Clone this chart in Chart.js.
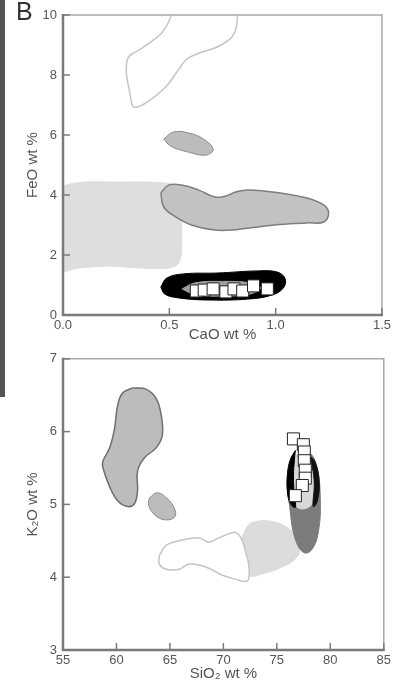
<!DOCTYPE html>
<html><head><meta charset="utf-8">
<script src="https://cdn.jsdelivr.net/npm/chart.js@4"></script>
<style>
html,body{margin:0;padding:0;background:#fff;width:394px;height:681px;overflow:hidden;}
#bar{position:absolute;left:0;top:0;width:5px;height:397px;background:#555;}
#lbl{position:absolute;left:16px;top:-1px;font:25px 'Liberation Sans',Arial,sans-serif;color:#333;line-height:1;}
#c1{position:absolute;left:0;top:0;}
#c2{position:absolute;left:0;top:345px;}
</style></head><body>
<div id="bar"></div>
<canvas id="c1" width="394" height="345"></canvas>
<canvas id="c2" width="394" height="336"></canvas>
<div id="lbl">B</div>
<script>
// ---------- top panel: CaO (x) vs FeO (y) ----------
const caoTicks = [0, 0.5, 1.0, 1.5];
const feoTicks = [0, 2, 4, 6, 8, 10];
const feoHighOutline = [[0.822,10.4],[0.808,9.43],[0.743,9.0],[0.590,8.57],[0.543,8.17],[0.483,7.6],[0.390,7.07],[0.334,6.93],[0.320,7.17],[0.302,8.5],[0.372,8.9],[0.464,9.4],[0.506,9.93],[0.515,10.4]];
const feoSmallEllipse = [[0.474,5.87],[0.520,6.1],[0.590,6.07],[0.660,5.87],[0.706,5.53],[0.673,5.33],[0.590,5.43],[0.506,5.63]];
const feoLightBox = [[-0.04,4.17],[0.056,4.4],[0.265,4.43],[0.474,4.4],[0.543,4.23],[0.557,3.83],[0.557,2.5],[0.553,1.9],[0.520,1.6],[0.358,1.57],[0.218,1.63],[0.079,1.57],[-0.04,1.5]];
const feoLongBlob = [[0.460,4.07],[0.497,4.33],[0.557,4.33],[0.636,4.17],[0.715,3.93],[0.766,3.97],[0.813,4.10],[0.869,4.17],[1.022,4.07],[1.147,3.90],[1.226,3.67],[1.249,3.40],[1.226,3.10],[1.147,3.07],[0.994,3.00],[0.790,2.83],[0.715,2.83],[0.604,3.00],[0.530,3.27],[0.474,3.60]];
const feoBlackBlob = [[0.460,0.93],[0.488,1.23],[0.567,1.37],[0.729,1.40],[0.915,1.47],[1.008,1.43],[1.045,1.20],[1.036,0.90],[0.985,0.67],[0.869,0.53],[0.683,0.50],[0.543,0.57],[0.478,0.70]];
const feoInnerGray = [[0.56,0.87],[0.62,1.07],[0.75,1.12],[0.88,1.07],[0.93,0.9],[0.88,0.7],[0.75,0.63],[0.62,0.68]];
const feoSamplesCaO = [0.627,0.664,0.706,0.766,0.804,0.845,0.896,0.961];
const feoSamplesFeO = [0.80,0.83,0.87,0.77,0.87,0.80,0.97,0.87];

// ---------- bottom panel: SiO2 (x) vs K2O (y) ----------
const sioTicks = [55, 60, 65, 70, 75, 80, 85];
const k2oTicks = [3, 4, 5, 6, 7];
const kBigBlob = [[61.50,6.60],[62.80,6.58],[63.73,6.45],[64.19,6.22],[64.29,5.95],[63.73,5.78],[62.62,5.64],[61.97,5.46],[61.97,5.19],[61.69,5.01],[61.04,4.97],[60.11,5.05],[59.37,5.24],[58.72,5.51],[58.72,5.59],[59.37,5.78],[59.83,6.05],[60.11,6.36],[60.57,6.53]];
const kSmallEllipse = [[63.08,5.09],[63.82,5.16],[64.75,5.08],[65.40,4.95],[65.50,4.84],[64.94,4.79],[64.01,4.81],[63.27,4.91],[62.99,5.01]];
const kLightBlob = [[71.72,4.54],[72.37,4.72],[73.30,4.77],[74.41,4.77],[75.80,4.70],[76.73,4.57],[77.20,4.41],[76.73,4.25],[75.34,4.13],[73.76,4.05],[72.37,4.02],[71.72,4.21]];
const kOutline = [[64.01,4.30],[64.66,4.44],[65.87,4.50],[67.72,4.54],[68.65,4.48],[69.58,4.54],[70.79,4.61],[71.25,4.61],[71.72,4.52],[72.09,4.34],[72.37,4.17],[72.37,3.98],[72.09,3.94],[71.16,3.97],[69.86,4.03],[68.37,4.14],[66.80,4.18],[65.87,4.11],[64.66,4.11],[64.01,4.18]];
const kDarkBlob = [[77.01,5.68],[77.94,5.72],[78.68,5.55],[79.06,5.11],[78.87,4.61],[78.22,4.37],[77.48,4.34],[76.73,4.52],[76.27,4.88],[76.08,5.42]];
const kInnerLight = [[76.83,5.68],[77.94,5.70],[78.50,5.52],[78.59,5.21],[78.22,4.99],[77.01,4.95],[76.55,5.15],[76.55,5.52]];
const kBlackLeft = [[76.73,5.74],[76.27,5.62],[75.99,5.42],[75.99,5.17],[76.27,5.01],[76.73,4.96],[76.64,5.12],[76.55,5.39],[76.64,5.60]];
const kBlackRight = [[78.03,5.68],[78.59,5.58],[78.96,5.31],[78.78,5.04],[78.40,4.97],[78.50,5.28],[78.31,5.52]];
const kSamplesSiO2 = [76.55,77.48,77.57,77.57,77.66,77.66,77.38,76.73];
const kSamplesK2O = [5.90,5.82,5.72,5.60,5.47,5.36,5.26,5.12];

const FONT = "'Liberation Sans', Arial, Helvetica, sans-serif";

function shape(pts, fillColor, strokeColor, bw, order){
  const d = pts.map(p => ({x:p[0], y:p[1]}));
  d.push({x:pts[0][0], y:pts[0][1]});
  return {
    data: d, showLine: true, fill: fillColor ? 'shape' : false,
    backgroundColor: fillColor || 'rgba(0,0,0,0)',
    borderColor: strokeColor || fillColor, borderWidth: strokeColor ? bw : 1,
    pointRadius: 0, pointHoverRadius: 0, tension: 0.4, order: order
  };
}
function squares(xs, ys){
  return {
    data: xs.map((v,i)=>({x:v, y:ys[i]})), showLine: false,
    pointStyle: 'rect', pointRadius: 8.5, pointHoverRadius: 8.5,
    backgroundColor: '#ffffff', borderColor: '#222', borderWidth: 1, order: 0
  };
}

const framePlugin = {
  id: 'frame',
  afterDatasetsDraw(chart){
    const {ctx, chartArea:a, scales:{x, y}} = chart;
    ctx.save();
    ctx.lineCap = 'butt';
    ctx.strokeStyle = '#a8a8a8'; ctx.lineWidth = 1.5;
    ctx.beginPath(); ctx.moveTo(a.left, a.top); ctx.lineTo(a.right, a.top); ctx.lineTo(a.right, a.bottom); ctx.stroke();
    ctx.strokeStyle = '#7a7a7a'; ctx.lineWidth = 2.5;
    ctx.beginPath(); ctx.moveTo(a.left, a.top-1); ctx.lineTo(a.left, a.bottom); ctx.lineTo(a.right+1, a.bottom); ctx.stroke();
    ctx.lineWidth = 1.5;
    x.ticks.forEach(t => { const px = x.getPixelForValue(t.value); ctx.beginPath(); ctx.moveTo(px, a.bottom); ctx.lineTo(px, a.bottom - 7); ctx.stroke(); });
    y.ticks.forEach(t => { const py = y.getPixelForValue(t.value); ctx.beginPath(); ctx.moveTo(a.left, py); ctx.lineTo(a.left + 7, py); ctx.stroke(); });
    ctx.restore();
  }
};

function makeChart(id, datasets, xr, yr, xt, yt, xTitle, yTitle, fmtX, pad, xH, xTitlePad){
  return new Chart(document.getElementById(id), {
    type: 'line',
    data: { datasets },
    options: {
      responsive: false, animation: false, events: [],
      layout: { padding: pad, autoPadding: false },
      plugins: { legend: {display:false}, tooltip: {enabled:false} },
      scales: {
        x: {
          type: 'linear', min: xr[0], max: xr[1],
          afterBuildTicks: s => { s.ticks = xt.map(v => ({value:v})); },
          afterFit: s => { s.height = xH; },
          grid: { display:false, drawTicks:false }, border: { display:false },
          ticks: { color:'#555', font:{family:FONT, size:13}, padding:3, maxRotation:0, autoSkip:false, callback: v => fmtX(v) },
          title: { display:true, text:xTitle, color:'#555', font:{family:FONT, size:15, lineHeight:1}, padding:{top:0, bottom:xTitlePad} }
        },
        y: {
          type: 'linear', min: yr[0], max: yr[1],
          afterBuildTicks: s => { s.ticks = yt.map(v => ({value:v})); },
          afterFit: s => { s.width = 63; },
          grid: { display:false, drawTicks:false }, border: { display:false },
          ticks: { color:'#555', font:{family:FONT, size:13}, padding:6, autoSkip:false, callback: v => String(v) },
          title: { display:true, text:yTitle, color:'#555', font:{family:FONT, size:15, lineHeight:1}, padding:{top:25.5, bottom:0} }
        }
      }
    },
    plugins: [framePlugin]
  });
}

makeChart('c1', [
  squares(feoSamplesCaO, feoSamplesFeO),
  shape(feoInnerGray, '#a0a0a0', null, 1, 1),
  shape(feoBlackBlob, '#000000', null, 1, 2),
  shape(feoLongBlob, '#c2c2c2', '#7e7e7e', 1.5, 3),
  shape(feoLightBox, '#dedede', null, 1, 4),
  shape(feoSmallEllipse, '#bcbcbc', '#8a8a8a', 1, 5),
  shape(feoHighOutline, null, '#c4c4c4', 1.5, 6)
], [0, 1.5], [0, 10], caoTicks, feoTicks, 'CaO wt %', 'FeO wt %', v => v.toFixed(1),
  {top:15, right:8, bottom:0, left:0}, 30, 2.5);

makeChart('c2', [
  squares(kSamplesSiO2, kSamplesK2O),
  shape(kBlackRight, '#111111', null, 1, 1),
  shape(kBlackLeft, '#000000', null, 1, 2),
  shape(kInnerLight, '#d8d8d8', null, 1, 3),
  shape(kDarkBlob, '#7c7c7c', null, 1, 4),
  shape(kOutline, '#ffffff', '#c4c4c4', 1.5, 5),
  shape(kLightBlob, '#dcdcdc', null, 1, 6),
  shape(kSmallEllipse, '#bcbcbc', '#8a8a8a', 1, 7),
  shape(kBigBlob, '#bcbcbc', '#6e6e6e', 1.5, 8)
], [55, 85], [3, 7], sioTicks, k2oTicks, 'SiO\u2082 wt %', 'K\u2082O wt %', v => String(v),
  {top:7, right:8, bottom:0, left:0}, 31, 0);
</script>
</body></html>
